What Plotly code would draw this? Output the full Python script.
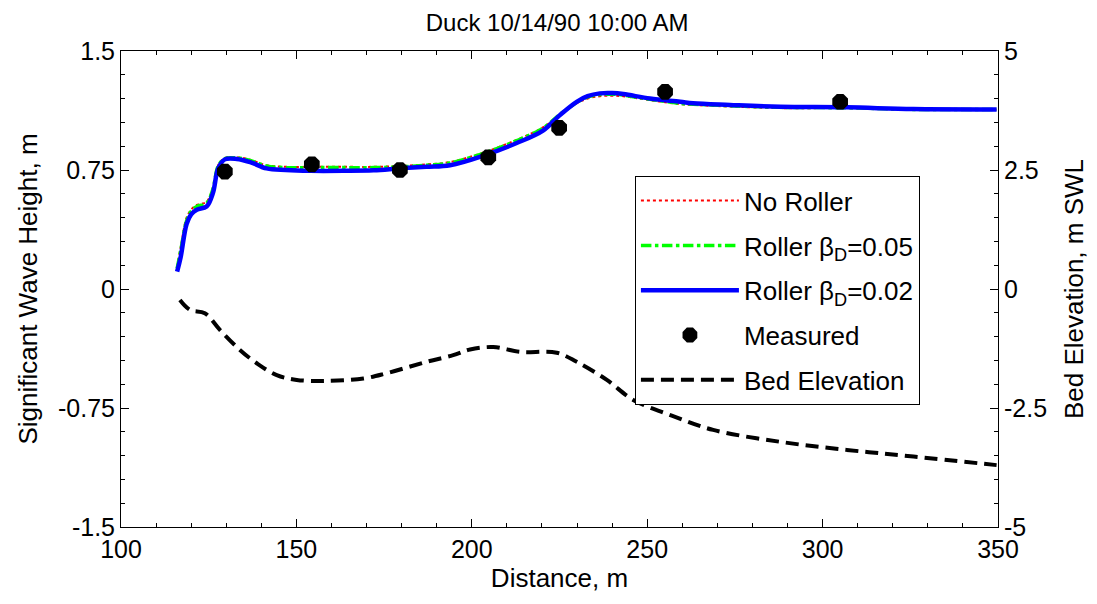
import plotly.graph_objects as go


FONT = "Liberation Sans, Arial, sans-serif"

# model grid (distance, m)
x_model = [116, 117, 118.7, 120, 121.6, 124.4, 126.2, 127.7, 129.6, 133, 136.8, 141.5,
           147, 153.9, 163.4, 172, 179.5, 187, 193.8, 203.3, 212.8, 220.4, 225.1, 229.9,
           233, 236.5, 240, 243.2, 250.8, 259.4, 263.1, 273.6, 287.9, 306.9, 325.8, 349.6]

h_no_roller = [0.14, 0.26, 0.45, 0.50, 0.53, 0.55, 0.64, 0.78, 0.825, 0.83, 0.815, 0.78,
               0.77, 0.77, 0.77, 0.77, 0.775, 0.785, 0.80, 0.86, 0.94, 1.02, 1.10, 1.17,
               1.20, 1.215, 1.218, 1.215, 1.19, 1.165, 1.16, 1.15, 1.14, 1.14, 1.13, 1.13]

h_roller_05 = [0.13, 0.24, 0.43, 0.49, 0.52, 0.54, 0.63, 0.775, 0.822, 0.826, 0.81, 0.775,
               0.765, 0.765, 0.765, 0.765, 0.77, 0.78, 0.795, 0.855, 0.935, 1.015, 1.10, 1.175,
               1.21, 1.225, 1.228, 1.222, 1.195, 1.17, 1.165, 1.155, 1.145, 1.142, 1.132, 1.131]

h_roller_02 = [0.11, 0.20, 0.41, 0.47, 0.50, 0.52, 0.605, 0.76, 0.817, 0.82, 0.80, 0.76,
               0.75, 0.745, 0.745, 0.748, 0.76, 0.77, 0.78, 0.84, 0.92, 1.0, 1.096, 1.18,
               1.215, 1.233, 1.235, 1.229, 1.20, 1.18, 1.17, 1.16, 1.149, 1.145, 1.134, 1.132]

x_meas = [129.6, 154.4, 179.5, 204.7, 224.9, 255.1, 305]
h_meas = [0.74, 0.786, 0.75, 0.83, 1.016, 1.243, 1.18]

x_bed = [116.8, 119.7, 123.9, 128.2, 133.9, 138.7, 144.4, 150.1, 158.6, 169.1, 175.7,
         187.1, 194.7, 199.5, 206.1, 213.7, 224.2, 229.9, 238.5, 246, 257, 268.8,
         287.9, 306.9, 325.9, 349.6]
z_bed = [-0.23, -0.44, -0.51, -0.86, -1.28, -1.56, -1.81, -1.91, -1.93, -1.88, -1.77,
         -1.53, -1.39, -1.27, -1.22, -1.32, -1.34, -1.53, -1.91, -2.33, -2.66, -2.96,
         -3.21, -3.38, -3.52, -3.70]

left_ticks = [-1.5, -0.75, 0, 0.75, 1.5]
left_labels = ["-1.5", "-0.75", "0", "0.75", "1.5"]
right_ticks = [-5, -2.5, 0, 2.5, 5]
right_labels = ["-5", "-2.5", "0", "2.5", "5"]

fig = go.Figure()

fig.add_trace(go.Scatter(
    x=x_model, y=h_no_roller, mode="lines", name="No Roller",
    line={"color": "#FF0000", "width": 2, "dash": "dot", "shape": "spline"},
    legendgroup="a", legendrank=1,
))
fig.add_trace(go.Scatter(
    x=x_model, y=h_roller_05, mode="lines", name="Roller β<sub>D</sub>=0.05",
    line={"color": "#00FF00", "width": 3.5, "dash": "dashdot", "shape": "spline"},
    legendgroup="b", legendrank=2,
))
fig.add_trace(go.Scatter(
    x=x_model, y=h_roller_02, mode="lines", name="Roller β<sub>D</sub>=0.02",
    line={"color": "#0000FF", "width": 4.5, "shape": "spline"},
    legendgroup="c", legendrank=3,
))
fig.add_trace(go.Scatter(
    x=x_meas, y=h_meas, mode="markers", name="Measured",
    marker={"symbol": "octagon", "size": 17, "color": "black"},
    legendgroup="d", legendrank=4,
))
fig.add_trace(go.Scatter(
    x=x_bed, y=z_bed, mode="lines", name="Bed Elevation", yaxis="y2",
    line={"color": "black", "width": 4, "dash": "13px,7px", "shape": "spline"},
    legendgroup="e", legendrank=5,
))

axis_common = {
    "showline": True,
    "linecolor": "black",
    "linewidth": 1,
    "ticks": "inside",
    "ticklen": 8,
    "tickwidth": 1,
    "tickcolor": "black",
    "showgrid": False,
    "zeroline": False,
    "tickfont": {"size": 25, "color": "black"},
}
minor_common = {"ticks": "inside", "ticklen": 4, "tickwidth": 1, "tickcolor": "black"}

fig.update_layout(
    width=1081,
    height=588,
    template="none",
    paper_bgcolor="white",
    plot_bgcolor="white",
    margin={"l": 113, "r": 91, "t": 43, "b": 69},
    font={"family": FONT, "color": "black"},
    title={
        "text": "Duck 10/14/90 10:00 AM",
        "x": 0.508,
        "xanchor": "center",
        "y": 0.975,
        "yanchor": "middle",
        "font": {"size": 24, "color": "black"},
    },
    xaxis={
        **axis_common,
        "range": [100, 350],
        "tickvals": [100, 150, 200, 250, 300, 350],
        "mirror": "ticks",
        "minor": {**minor_common, "dtick": 10},
        "title": {"text": "Distance, m", "font": {"size": 26}, "standoff": 2},
    },
    yaxis={
        **axis_common,
        "range": [-1.5, 1.5],
        "tickvals": left_ticks,
        "ticktext": left_labels,
        "minor": {**minor_common, "dtick": 0.15},
        "title": {"text": "Significant Wave Height, m", "font": {"size": 26}, "standoff": 12},
    },
    yaxis2={
        **axis_common,
        "overlaying": "y",
        "side": "right",
        "range": [-5, 5],
        "tickvals": right_ticks,
        "ticktext": right_labels,
        "minor": {**minor_common, "dtick": 0.5},
        "title": {"text": "Bed Elevation, m SWL", "font": {"size": 26}, "standoff": 18},
    },
    showlegend=True,
    legend={
        "x": 0.586,
        "y": 0.737,
        "xanchor": "left",
        "yanchor": "top",
        "bgcolor": "white",
        "bordercolor": "black",
        "borderwidth": 1,
        "font": {"size": 26, "color": "black"},
        "tracegroupgap": 8,
        "itemwidth": 98,
    },
)

fig.write_html("out.html")
